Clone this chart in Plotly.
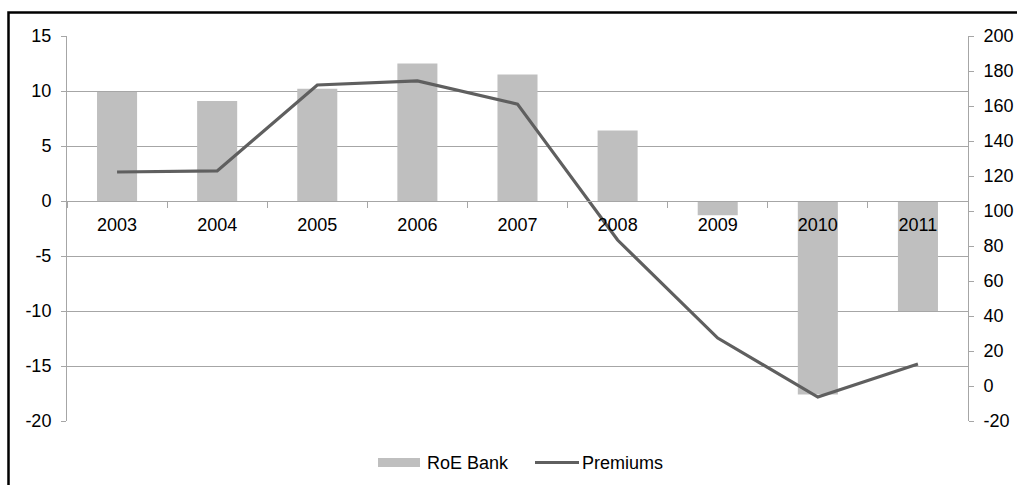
import plotly.graph_objects as go

years = ["2003", "2004", "2005", "2006", "2007", "2008", "2009", "2010", "2011"]
roe_bank = [9.9, 9.1, 10.2, 12.5, 11.5, 6.4, -1.3, -17.6, -10.0]
premiums = [122.3, 122.9, 172.0, 174.3, 161.1, 83.4, 27.4, -6.3, 12.6]
left_ticks = [-20, -15, -10, -5, 0, 5, 10, 15]
right_ticks = [-20, 0, 20, 40, 60, 80, 100, 120, 140, 160, 180, 200]

FONT = "Liberation Sans, Arial, sans-serif"
GRID = "#a6a6a6"
BAR_C = "#bfbfbf"
LINE_C = "#5f5f5f"
FS = 18

fig = go.Figure()
fig.add_trace(go.Bar(x=years, y=roe_bank, name="RoE Bank", marker_color=BAR_C,
                     marker_line_width=0, yaxis="y"))
fig.add_trace(go.Scatter(x=years, y=premiums, name="Premiums", mode="lines",
                         line=dict(color=LINE_C, width=3.2), yaxis="y2"))

PW, PH = 901, 385
def px(x):
    return (x - 67) / PW
def py(y):
    return (421 - y) / PH

shapes = [
    dict(type="rect", xref="paper", yref="paper",
         x0=px(8.5), x1=1.2, y0=-0.3, y1=py(12.5),
         line=dict(color="black", width=2.5), fillcolor="rgba(0,0,0,0)", layer="above"),
    dict(type="rect", xref="paper", yref="paper",
         x0=px(378), x1=px(420), y0=py(467), y1=py(458),
         line=dict(width=0), fillcolor=BAR_C),
    dict(type="line", xref="paper", yref="paper",
         x0=px(535), x1=px(579), y0=py(462.5), y1=py(462.5),
         line=dict(color=LINE_C, width=3.2)),
]
annotations = [
    dict(text="RoE Bank", xref="paper", yref="paper", x=px(425), y=py(462.5),
         xanchor="left", yanchor="middle", showarrow=False, font=dict(size=FS)),
    dict(text="Premiums", xref="paper", yref="paper", x=px(580), y=py(462.5),
         xanchor="left", yanchor="middle", showarrow=False, font=dict(size=FS)),
]

fig.update_layout(
    width=1017, height=485,
    margin=dict(l=67, r=49, t=36, b=64, autoexpand=False),
    paper_bgcolor="white", plot_bgcolor="white",
    font=dict(family=FONT, size=FS, color="black"),
    bargap=0.6,
    showlegend=False,
    xaxis=dict(type="category", anchor="free", position=20/35, automargin=False,
               showgrid=False, showline=True, linecolor=GRID, linewidth=1,
               ticks="outside", tickson="boundaries", ticklen=6, tickcolor=GRID,
               ticklabelstandoff=7, zeroline=False),
    yaxis=dict(range=[-20, 15], tickvals=left_ticks,
               ticktext=[str(v) for v in left_ticks], automargin=False,
               showgrid=True, gridcolor=GRID, gridwidth=1,
               zeroline=False, showline=True, linecolor=GRID, ticks="outside",
               ticklen=5, tickcolor=GRID, ticklabelstandoff=6),
    yaxis2=dict(range=[-20, 200], tickvals=right_ticks,
                ticktext=[str(v) for v in right_ticks], automargin=False,
                overlaying="y", side="right",
                showgrid=False, zeroline=False, showline=True, linecolor=GRID,
                ticks="outside", ticklen=5, tickcolor=GRID, ticklabelstandoff=6),
    shapes=shapes,
    annotations=annotations,
)

fig.write_html("out.html")
